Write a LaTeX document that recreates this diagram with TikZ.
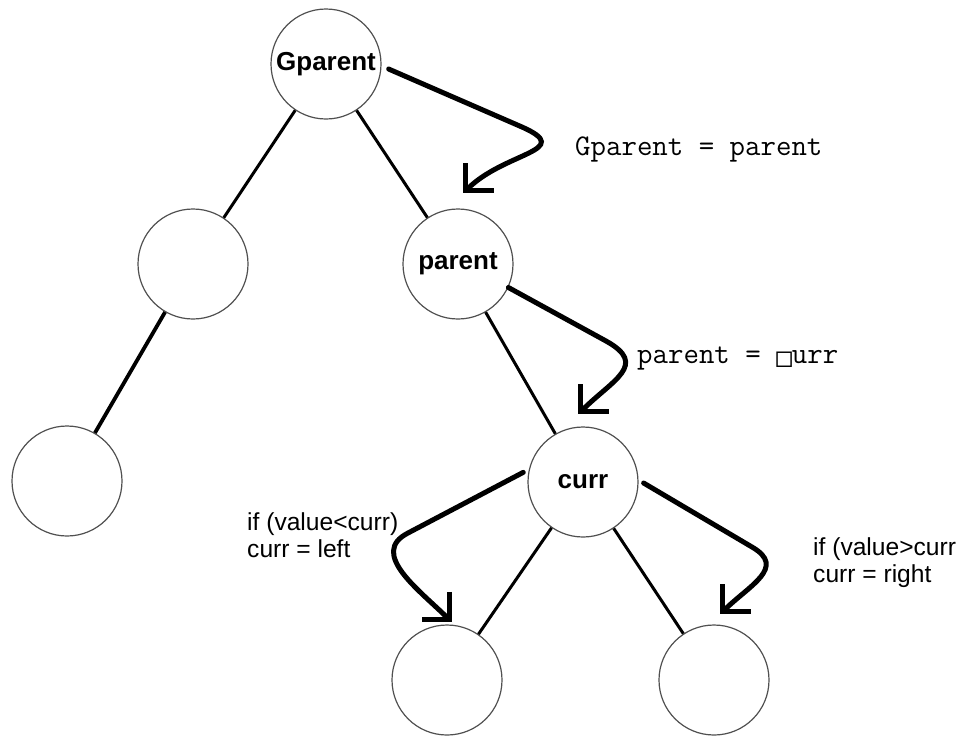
\documentclass[tikz,border=0pt]{standalone}
\usepackage{fontspec}
\usetikzlibrary{arrows.meta,calc}
\newfontfamily\labelfont{Liberation Sans}
\newfontfamily\squarefont{DejaVu Sans Mono}

\tikzset{
  vertex/.style={circle, draw={rgb,255:red,80;green,80;blue,80}, line width=1.2pt,
    minimum size=110pt, inner sep=0pt, font=\labelfont\bfseries\fontsize{26}{30}\selectfont},
  branch/.style={line width=3pt},
  walk/.style={line width=5pt, line cap=round, -{Straight Barb[angle=90:28pt]}},
  code/.style={anchor=base west, inner sep=0pt, font=\ttfamily\fontsize{30}{34}\selectfont},
  cond/.style={anchor=north west, inner sep=0pt, align=left,
    font=\labelfont\fontsize{24.6}{27}\selectfont},
}

\begin{document}
\begin{tikzpicture}[x=1pt,y=1pt,yscale=-1]
\useasboundingbox (0,0) rectangle (966,740);

\node[vertex] (gparent) at (326,64) {Gparent};
\node[vertex] (left) at (193,264) {};
\node[vertex] (leftleft) at (67,481) {};
\node[vertex] (parent) at (458,264) {parent};
\node[vertex] (curr) at (583,482) {curr};
\node[vertex] (currleft) at (447,680) {};
\node[vertex] (currright) at (714,680) {};

\draw[branch] (gparent) -- (left);
\draw[branch] (gparent) -- (parent);
\draw[branch, line width=3.8pt] (left) -- (leftleft);
\draw[branch] (parent) -- (curr);
\draw[branch] (curr) -- (currleft);
\draw[branch] (curr) -- (currright);

\coordinate (bend1) at (522,127);
\coordinate (bend2) at (606,341);
\coordinate (bend3) at (408,533);
\coordinate (bend4) at (752,547);

\draw[walk] ($(gparent.east)+(7,5)$) -- (bend1)
  to[out=24, in=-45, looseness=1.7] ($(parent.north)+(5,-15)$);
\draw[walk] (parent.-25) -- (bend2)
  to[out=29, in=-45, looseness=1.6] ($(curr.north)+(-5,-12)$);
\draw[walk] ($(curr.170)+(-5,0)$) -- (bend3)
  to[out=153, in=225, looseness=1.15] ($(currleft.north)+(5,-2)$);
\draw[walk] ($(curr.east)+(5,1)$) -- (bend4)
  to[out=30, in=-45, looseness=1.4] ($(currright.north)+(6,-10)$);

\node[code] (swap1) at (575,155) {Gparent = parent};
\node[code] (swap2) at (637,363) {parent = {\squarefont\fontsize{26}{26}\selectfont\raisebox{-3pt}{□}}urr};

\node[cond] (goleft) at (247,512) {if (value<curr)\\curr = left};
\node[cond] (goright) at (813,537) {if (value>curr\\curr = right};
\end{tikzpicture}
\end{document}
